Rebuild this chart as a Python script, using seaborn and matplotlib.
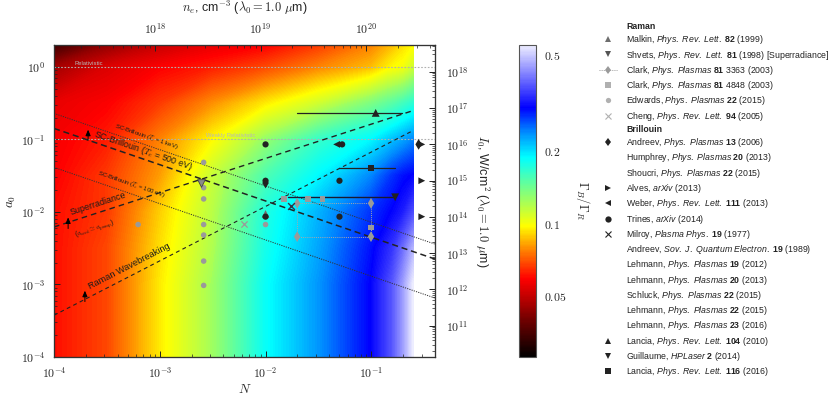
import numpy as np
import matplotlib
matplotlib.use('Agg')
import matplotlib.pyplot as plt
import seaborn as sns
from matplotlib.colors import LinearSegmentedColormap, LogNorm
from matplotlib.cm import ScalarMappable
from matplotlib.lines import Line2D
from matplotlib.ticker import FixedLocator, FuncFormatter, LogLocator, NullFormatter

sns.set_style('ticks')
plt.rcParams['font.family'] = ['Liberation Sans', 'DejaVu Sans']
plt.rcParams['mathtext.fontset'] = 'cm'
plt.rcParams['mathtext.rm'] = 'Liberation Sans'
plt.rcParams['mathtext.it'] = 'Liberation Sans:italic'
plt.rcParams['mathtext.bf'] = 'Liberation Sans:bold'

# ---- axis ranges / conversions
N_lim = [1e-4, 0.4]
a0_lim = [1e-4, 2.0]
n_crit = 1.115e21      # cm^-3 for 1 um
I_fac = 1.37e18        # W/cm^2 for a0 = 1

# ---- growth rate ratio map Gamma_B / Gamma_R
grid_N = [1e-4, 3.16e-4, 1e-3, 3.16e-3, 1e-2, 3.16e-2, 0.1, 0.158, 0.2, 0.25]
grid_a0 = [1e-4, 1e-3, 3.16e-3, 1e-2, 3.16e-2, 0.1, 0.316, 1.0, 2.0]
ratio = [
    [0.061, 0.069, 0.095, 0.125, 0.184, 0.233, 0.304, 0.375, 0.448, 0.550],
    [0.061, 0.069, 0.095, 0.125, 0.184, 0.233, 0.304, 0.375, 0.448, 0.550],
    [0.061, 0.069, 0.093, 0.121, 0.178, 0.226, 0.295, 0.343, 0.397, 0.475],
    [0.061, 0.067, 0.090, 0.118, 0.173, 0.219, 0.278, 0.304, 0.323, 0.364],
    [0.059, 0.067, 0.082, 0.114, 0.154, 0.189, 0.240, 0.278, 0.295, 0.304],
    [0.058, 0.063, 0.078, 0.098, 0.128, 0.163, 0.189, 0.213, 0.226, 0.240],
    [0.056, 0.059, 0.067, 0.080, 0.095, 0.111, 0.136, 0.149, 0.158, 0.168],
    [0.046, 0.054, 0.059, 0.063, 0.069, 0.078, 0.087, 0.098, 0.101, 0.111],
    [0.034, 0.044, 0.051, 0.056, 0.059, 0.067, 0.078, 0.087, 0.093, 0.098],
]
vmin, vmax = 0.0282, 0.55
cbar_ticks = [0.05, 0.1, 0.2, 0.5]

cmap = LinearSegmentedColormap.from_list('ratio', [
    (0.00, (0.0, 0.0, 0.0)),
    (0.12, (0.45, 0.0, 0.0)),
    (0.25, (1.0, 0.0, 0.0)),
    (0.34, (1.0, 0.5, 0.0)),
    (0.42, (1.0, 1.0, 0.0)),
    (0.52, (0.55, 1.0, 0.45)),
    (0.64, (0.0, 1.0, 1.0)),
    (0.72, (0.0, 0.55, 1.0)),
    (0.80, (0.0, 0.0, 1.0)),
    (1.00, (0.93, 0.93, 1.0)),
])

# ---- threshold lines (end points)
sc_N = [1e-4, 0.4]
sc_1kev = [0.228, 0.0036]
sc_500ev = [0.1416, 0.00224]
sc_100ev = [0.0411, 0.00065]
sr_N = [1e-4, 0.25]
sr_a0 = [0.0062, 0.25]
wb_N = [1e-4, 0.25]
wb_a0 = [3.76e-4, 0.133]

# ---- published parameters
edwards_N = [6.24e-4, 2.6e-3, 2.6e-3, 2.6e-3, 2.6e-3, 2.6e-3, 2.6e-3, 2.6e-3, 0.01]
edwards_a0 = [0.0067, 0.0482, 0.0216, 0.0151, 0.0067, 0.0048, 0.0021, 0.00097, 0.0067]
clark1_N = [0.0199, 0.0993, 0.0993, 0.0199, 0.0199]
clark1_a0 = [0.01315, 0.01315, 0.00456, 0.00456, 0.01315]
clark2_N = [0.0149, 0.0251, 0.0347, 0.0993]
clark2_a0 = [0.0150, 0.0150, 0.0150, 0.00607]
cheng_N, cheng_a0 = [0.00624], [0.00682]
shvets_N, shvets_a0 = [0.00247], [0.0252]
malkin_N, malkin_a0 = [0.01], [0.0094]
andreev_N, andreev_a0 = [0.01, 0.28], [0.025, 0.0853]
alves_N = [0.30, 0.30, 0.30]
alves_a0 = [0.0853, 0.0269, 0.0086]
weber_N, weber_a0 = [0.047], [0.0853]
trines_N = [0.01, 0.01, 0.01, 0.053, 0.05, 0.05]
trines_a0 = [0.0853, 0.0269, 0.0086, 0.0853, 0.0269, 0.0086]
milroy_N, milroy_a0 = [0.0175], [0.0122]
lancia10_N, lancia10_a0, lancia10_rng = [0.110], [0.232], [0.020, 0.196]
lancia16_N, lancia16_a0, lancia16_rng = [0.099], [0.0399], [0.0499, 0.168]
guill_N, guill_a0, guill_rng = [0.168], [0.0159], [0.0162, 0.168]

fig = plt.figure(figsize=(8.3, 3.98), dpi=100)
rect = [54 / 830, 41 / 398, 381 / 830, 312 / 398]

# heat map drawn in log-space on a hidden axes beneath the main one
hax = fig.add_axes(rect, label='heat')
lev = np.linspace(np.log10(vmin), np.log10(vmax), 256)
hax.contourf(np.log10(grid_N), np.log10(grid_a0), np.log10(np.array(ratio)), levels=lev,
             cmap=cmap, vmin=np.log10(vmin), vmax=np.log10(vmax), extend='both', antialiased=False)
hax.set_xlim(np.log10(N_lim[0]), np.log10(N_lim[1]))
hax.set_ylim(np.log10(a0_lim[0]), np.log10(a0_lim[1]))
hax.axis('off')

ax = fig.add_axes(rect, label='main')
ax.patch.set_visible(False)
ax.set_xscale('log')
ax.set_yscale('log')
ax.set_xlim(N_lim)
ax.set_ylim(a0_lim)

grey_l = '#9a9a9a'
dk = '#222222'

# regime guide lines
ax.axhline(1.0, color='#b0b0b0', ls=(0, (1.5, 1.5)), lw=0.8, zorder=2)
ax.axhline(0.1, color='#b0b0b0', ls=(0, (1.5, 1.5)), lw=0.8, zorder=2)
ax.plot(sc_N, sc_1kev, color='#333333', ls=(0, (1.2, 1.2)), lw=0.7, zorder=3)
ax.plot(sc_N, sc_500ev, color='#222222', ls=(0, (4, 2.5)), lw=1.1, zorder=3)
ax.plot(sc_N, sc_100ev, color='#333333', ls=(0, (1.2, 1.2)), lw=0.7, zorder=3)
ax.plot(sr_N, sr_a0, color='#222222', ls=(0, (4, 3)), lw=1.0, zorder=3)
ax.plot(wb_N, wb_a0, color='#222222', ls=(0, (3.5, 3)), lw=0.8, zorder=3)

# parameter ranges
ax.plot(lancia10_rng, lancia10_a0 * 2, color=dk, lw=0.9, zorder=4)
ax.plot(lancia16_rng, lancia16_a0 * 2, color=dk, lw=0.9, zorder=4)
ax.plot(guill_rng, guill_a0 * 2, color='#1a1a30', lw=1.0, zorder=4)
ax.plot(clark1_N, clark1_a0, color='#a8a8a8', ls=(0, (1, 1.2)), lw=0.7, zorder=4)

# markers
sns.scatterplot(x=malkin_N, y=malkin_a0, ax=ax, marker='^', s=30, color='#6e6e6e', edgecolor='none', zorder=5)
sns.scatterplot(x=andreev_N, y=andreev_a0, ax=ax, marker='d', s=30, color=dk, edgecolor='none', zorder=5)
sns.scatterplot(x=edwards_N, y=edwards_a0, ax=ax, marker='o', s=16, color=grey_l, edgecolor='none', zorder=5)
sns.scatterplot(x=clark1_N[:4], y=clark1_a0[:4], ax=ax, marker='d', s=30, color=grey_l, edgecolor='none', zorder=5)
sns.scatterplot(x=clark2_N, y=clark2_a0, ax=ax, marker='s', s=16, color=grey_l, edgecolor='none', zorder=5)
sns.scatterplot(x=cheng_N, y=cheng_a0, ax=ax, marker='x', s=20, color=grey_l, linewidth=0.9, zorder=5)
sns.scatterplot(x=shvets_N, y=shvets_a0, ax=ax, marker='v', s=30, color='#8a8a8a', edgecolor='#444444', linewidth=0.6, zorder=6)
sns.scatterplot(x=trines_N, y=trines_a0, ax=ax, marker='o', s=20, color=dk, edgecolor='none', zorder=6)
sns.scatterplot(x=weber_N, y=weber_a0, ax=ax, marker='<', s=24, color=dk, edgecolor='none', zorder=6)
sns.scatterplot(x=alves_N, y=alves_a0, ax=ax, marker='>', s=24, color=dk, edgecolor='none', zorder=6)
sns.scatterplot(x=milroy_N, y=milroy_a0, ax=ax, marker='x', s=24, color='#333344', linewidth=1.0, zorder=6)
sns.scatterplot(x=lancia10_N, y=lancia10_a0, ax=ax, marker='^', s=32, color=dk, edgecolor='none', zorder=6)
sns.scatterplot(x=lancia16_N, y=lancia16_a0, ax=ax, marker='s', s=18, color=dk, edgecolor='none', zorder=6)
sns.scatterplot(x=guill_N, y=guill_a0, ax=ax, marker='v', s=32, color=dk, edgecolor='none', zorder=6)


def line_angle(xs, ys):
    p = ax.transData.transform(np.column_stack([xs, ys]))
    return np.degrees(np.arctan2(p[1, 1] - p[0, 1], p[1, 0] - p[0, 0]))


ang_sc = line_angle(sc_N, sc_500ev)
ang_sr = line_angle(sr_N, sr_a0)
ang_wb = line_angle(wb_N, wb_a0)
txt = dict(ha='center', va='center', color='#1a1a1a', rotation_mode='anchor', zorder=7)
ax.text(7.5e-4, 0.109, r'SC-Brillouin ($T_e$ = 1 keV)', fontsize=4.3, rotation=ang_sc, **txt)
ax.text(6.9e-4, 0.070, r'SC-Brillouin ($T_e$ = 500 eV)', fontsize=6.4, rotation=ang_sc, **txt)
ax.text(5.4e-4, 0.0236, r'SC-Brillouin ($T_e$ = 100 eV)', fontsize=4.3, rotation=ang_sc, **txt)
ax.text(2.6e-4, 0.0129, 'Superradiance', fontsize=6.4, rotation=ang_sr, **txt)
ax.text(2.45e-4, 0.0057, r'($a_{\rm seed} \simeq a_{\rm pump}$)', fontsize=4.8, rotation=ang_sr, **txt)
ax.text(5.1e-4, 0.00178, 'Raman Wavebreaking', fontsize=6.6, rotation=ang_wb, **txt)
ax.text(1.55e-4, 1.03, 'Relativistic', fontsize=4.2, color='#b8b8b8', ha='left', va='bottom')
ax.text(2.76e-3, 0.103, 'Weakly Relativistic', fontsize=4.2, color='#b8b8b8', ha='left', va='bottom')
arw = dict(arrowstyle='-|>,head_length=0.35,head_width=0.15', lw=0.7, color='k', shrinkA=0, shrinkB=0)
ax.annotate('', xy=(2.1e-4, 0.136), xytext=(2.1e-4, 0.097), arrowprops=arw, zorder=7)
ax.annotate('', xy=(1.36e-4, 0.0084), xytext=(1.36e-4, 0.0059), arrowprops=arw, zorder=7)
ax.annotate('', xy=(1.96e-4, 8.2e-4), xytext=(1.96e-4, 5.8e-4), arrowprops=arw, zorder=7)


def pow10(v, pos):
    return r'$10^{%d}$' % int(round(np.log10(v)))


ax.xaxis.set_major_locator(FixedLocator([1e-4, 1e-3, 1e-2, 1e-1]))
ax.yaxis.set_major_locator(FixedLocator([1e-4, 1e-3, 1e-2, 1e-1, 1e0]))
for a in (ax.xaxis, ax.yaxis):
    a.set_major_formatter(FuncFormatter(pow10))
    a.set_minor_locator(LogLocator(base=10, subs=np.arange(2, 10)))
    a.set_minor_formatter(NullFormatter())
ax.tick_params(which='both', direction='in', top=False, right=False, labelsize=8.5, color='#222222')
ax.tick_params(which='major', length=4, width=0.7, pad=6)
ax.tick_params(which='minor', length=2, width=0.5)
ax.set_xlabel('$N$', fontsize=9.5, labelpad=2)
ax.set_ylabel('$a_0$', fontsize=9.5, labelpad=2)

axr = ax.twinx()
axr.set_yscale('log')
axr.set_ylim(I_fac * a0_lim[0] ** 2, I_fac * a0_lim[1] ** 2)
axr.yaxis.set_major_locator(FixedLocator([10.0 ** k for k in range(11, 19)]))
axr.yaxis.set_major_formatter(FuncFormatter(pow10))
axr.yaxis.set_minor_locator(LogLocator(base=10, subs=np.arange(2, 10)))
axr.yaxis.set_minor_formatter(NullFormatter())
axr.tick_params(which='both', direction='in', labelsize=8.5, color='#222222')
axr.tick_params(which='major', length=4, width=0.7, pad=8)
axr.tick_params(which='minor', length=2, width=0.5)
axr.set_ylabel(r'$I_0$, W/cm$^2$ ($\lambda_0 = 1.0\ \mu$m)', fontsize=9, rotation=270, labelpad=16)

axt = ax.twiny()
axt.set_xscale('log')
axt.set_xlim(n_crit * N_lim[0], n_crit * N_lim[1])
axt.xaxis.set_major_locator(FixedLocator([1e18, 1e19, 1e20]))
axt.xaxis.set_major_formatter(FuncFormatter(pow10))
axt.xaxis.set_minor_locator(LogLocator(base=10, subs=np.arange(2, 10)))
axt.xaxis.set_minor_formatter(NullFormatter())
axt.tick_params(which='both', direction='in', labelsize=8.5, color='#222222')
axt.tick_params(which='major', length=4, width=0.7, pad=6)
axt.tick_params(which='minor', length=2, width=0.5)
axt.set_xlabel(r'$n_e$, cm$^{-3}$ ($\lambda_0 = 1.0\ \mu$m)', fontsize=9, labelpad=7)

for a in (ax, axr, axt):
    for sp in a.spines.values():
        sp.set_color('#333333')
        sp.set_linewidth(0.8)

# colour bar
cax = fig.add_axes([519 / 830, 41 / 398, 17 / 830, 312 / 398])
cb = fig.colorbar(ScalarMappable(norm=LogNorm(vmin, vmax), cmap=cmap), cax=cax)
cb.set_ticks(cbar_ticks)
cb.set_ticklabels([r'$%g$' % t for t in cbar_ticks])
cax.tick_params(which='both', direction='in', left=True, right=True, labelsize=8.5)
cax.tick_params(which='major', length=4, pad=6)
cax.tick_params(which='minor', length=2)
cb.outline.set_edgecolor('#555555')
cb.set_label(r'$\Gamma_B/\Gamma_R$', fontsize=9, rotation=270, labelpad=18)

# legend
def mk(marker, color, ls='none', size=4.5):
    return Line2D([], [], ls=ls, marker=marker, color=color, markersize=size, lw=0.7,
                  markeredgewidth=0.8 if marker == 'x' else 0)


blank = Line2D([], [], ls='none')
entries = [
    (blank, 'Raman'),
    (mk('^', '#6e6e6e'), r'Malkin, $\mathit{Phys.\ Rev.\ Lett.}$ $\mathbf{82}$ (1999)'),
    (mk('v', '#555555'), r'Shvets, $\mathit{Phys.\ Rev.\ Lett.}$ $\mathbf{81}$ (1998) [Superradiance]'),
    (mk('d', grey_l, ls=(0, (1, 1.2))), r'Clark, $\mathit{Phys.\ Plasmas}$ $\mathbf{81}$ 3363 (2003)'),
    (mk('s', '#b0b0b0', size=3.8), r'Clark, $\mathit{Phys.\ Plasmas}$ $\mathbf{81}$ 4848 (2003)'),
    (mk('o', '#b0b0b0', size=3.8), r'Edwards, $\mathit{Phys.\ Plasmas}$ $\mathbf{22}$ (2015)'),
    (mk('x', '#b0b0b0'), r'Cheng, $\mathit{Phys.\ Rev.\ Lett.}$ $\mathbf{94}$ (2005)'),
    (blank, 'Brillouin'),
    (mk('d', dk), r'Andreev, $\mathit{Phys.\ Plasmas}$ $\mathbf{13}$ (2006)'),
    (blank, r'Humphrey, $\mathit{Phys.\ Plasmas}$ $\mathbf{20}$ (2013)'),
    (blank, r'Shoucri, $\mathit{Phys.\ Plasmas}$ $\mathbf{22}$ (2015)'),
    (mk('>', dk), r'Alves, $\mathit{arXiv}$ (2013)'),
    (mk('<', dk), r'Weber, $\mathit{Phys.\ Rev.\ Lett.}$ $\mathbf{111}$ (2013)'),
    (mk('o', dk), r'Trines, $\mathit{arXiv}$ (2014)'),
    (mk('x', dk), r'Milroy, $\mathit{Plasma\ Phys.}$ $\mathbf{19}$ (1977)'),
    (blank, r'Andreev, $\mathit{Sov.\ J.\ Quantum\ Electron.}$ $\mathbf{19}$ (1989)'),
    (blank, r'Lehmann, $\mathit{Phys.\ Plasmas}$ $\mathbf{19}$ (2012)'),
    (blank, r'Lehmann, $\mathit{Phys.\ Plasmas}$ $\mathbf{20}$ (2013)'),
    (blank, r'Schluck, $\mathit{Phys.\ Plasmas}$ $\mathbf{22}$ (2015)'),
    (blank, r'Lehmann, $\mathit{Phys.\ Plasmas}$ $\mathbf{22}$ (2015)'),
    (blank, r'Lehmann, $\mathit{Phys.\ Plasmas}$ $\mathbf{23}$ (2016)'),
    (mk('^', dk), r'Lancia, $\mathit{Phys.\ Rev.\ Lett.}$ $\mathbf{104}$ (2010)'),
    (mk('v', dk), r'Guillaume, $\mathit{HPLaser}$ $\mathbf{2}$ (2014)'),
    (mk('s', dk, size=3.8), r'Lancia, $\mathit{Phys.\ Rev.\ Lett.}$ $\mathbf{116}$ (2016)'),
]
leg = fig.legend([e[0] for e in entries], [e[1] for e in entries], loc='upper left',
                 bbox_to_anchor=(599 / 830, 1 - 22 / 398), frameon=False, fontsize=6.3,
                 handlelength=2.0, handletextpad=1.1, labelspacing=0.26, borderaxespad=0,
                 borderpad=0)
for t, (_, lab) in zip(leg.get_texts(), entries):
    t.set_math_fontfamily('custom')
    t.set_color('#222222')
    if lab in ('Raman', 'Brillouin'):
        t.set_fontweight('bold')

fig.savefig('out.png', dpi=100)
